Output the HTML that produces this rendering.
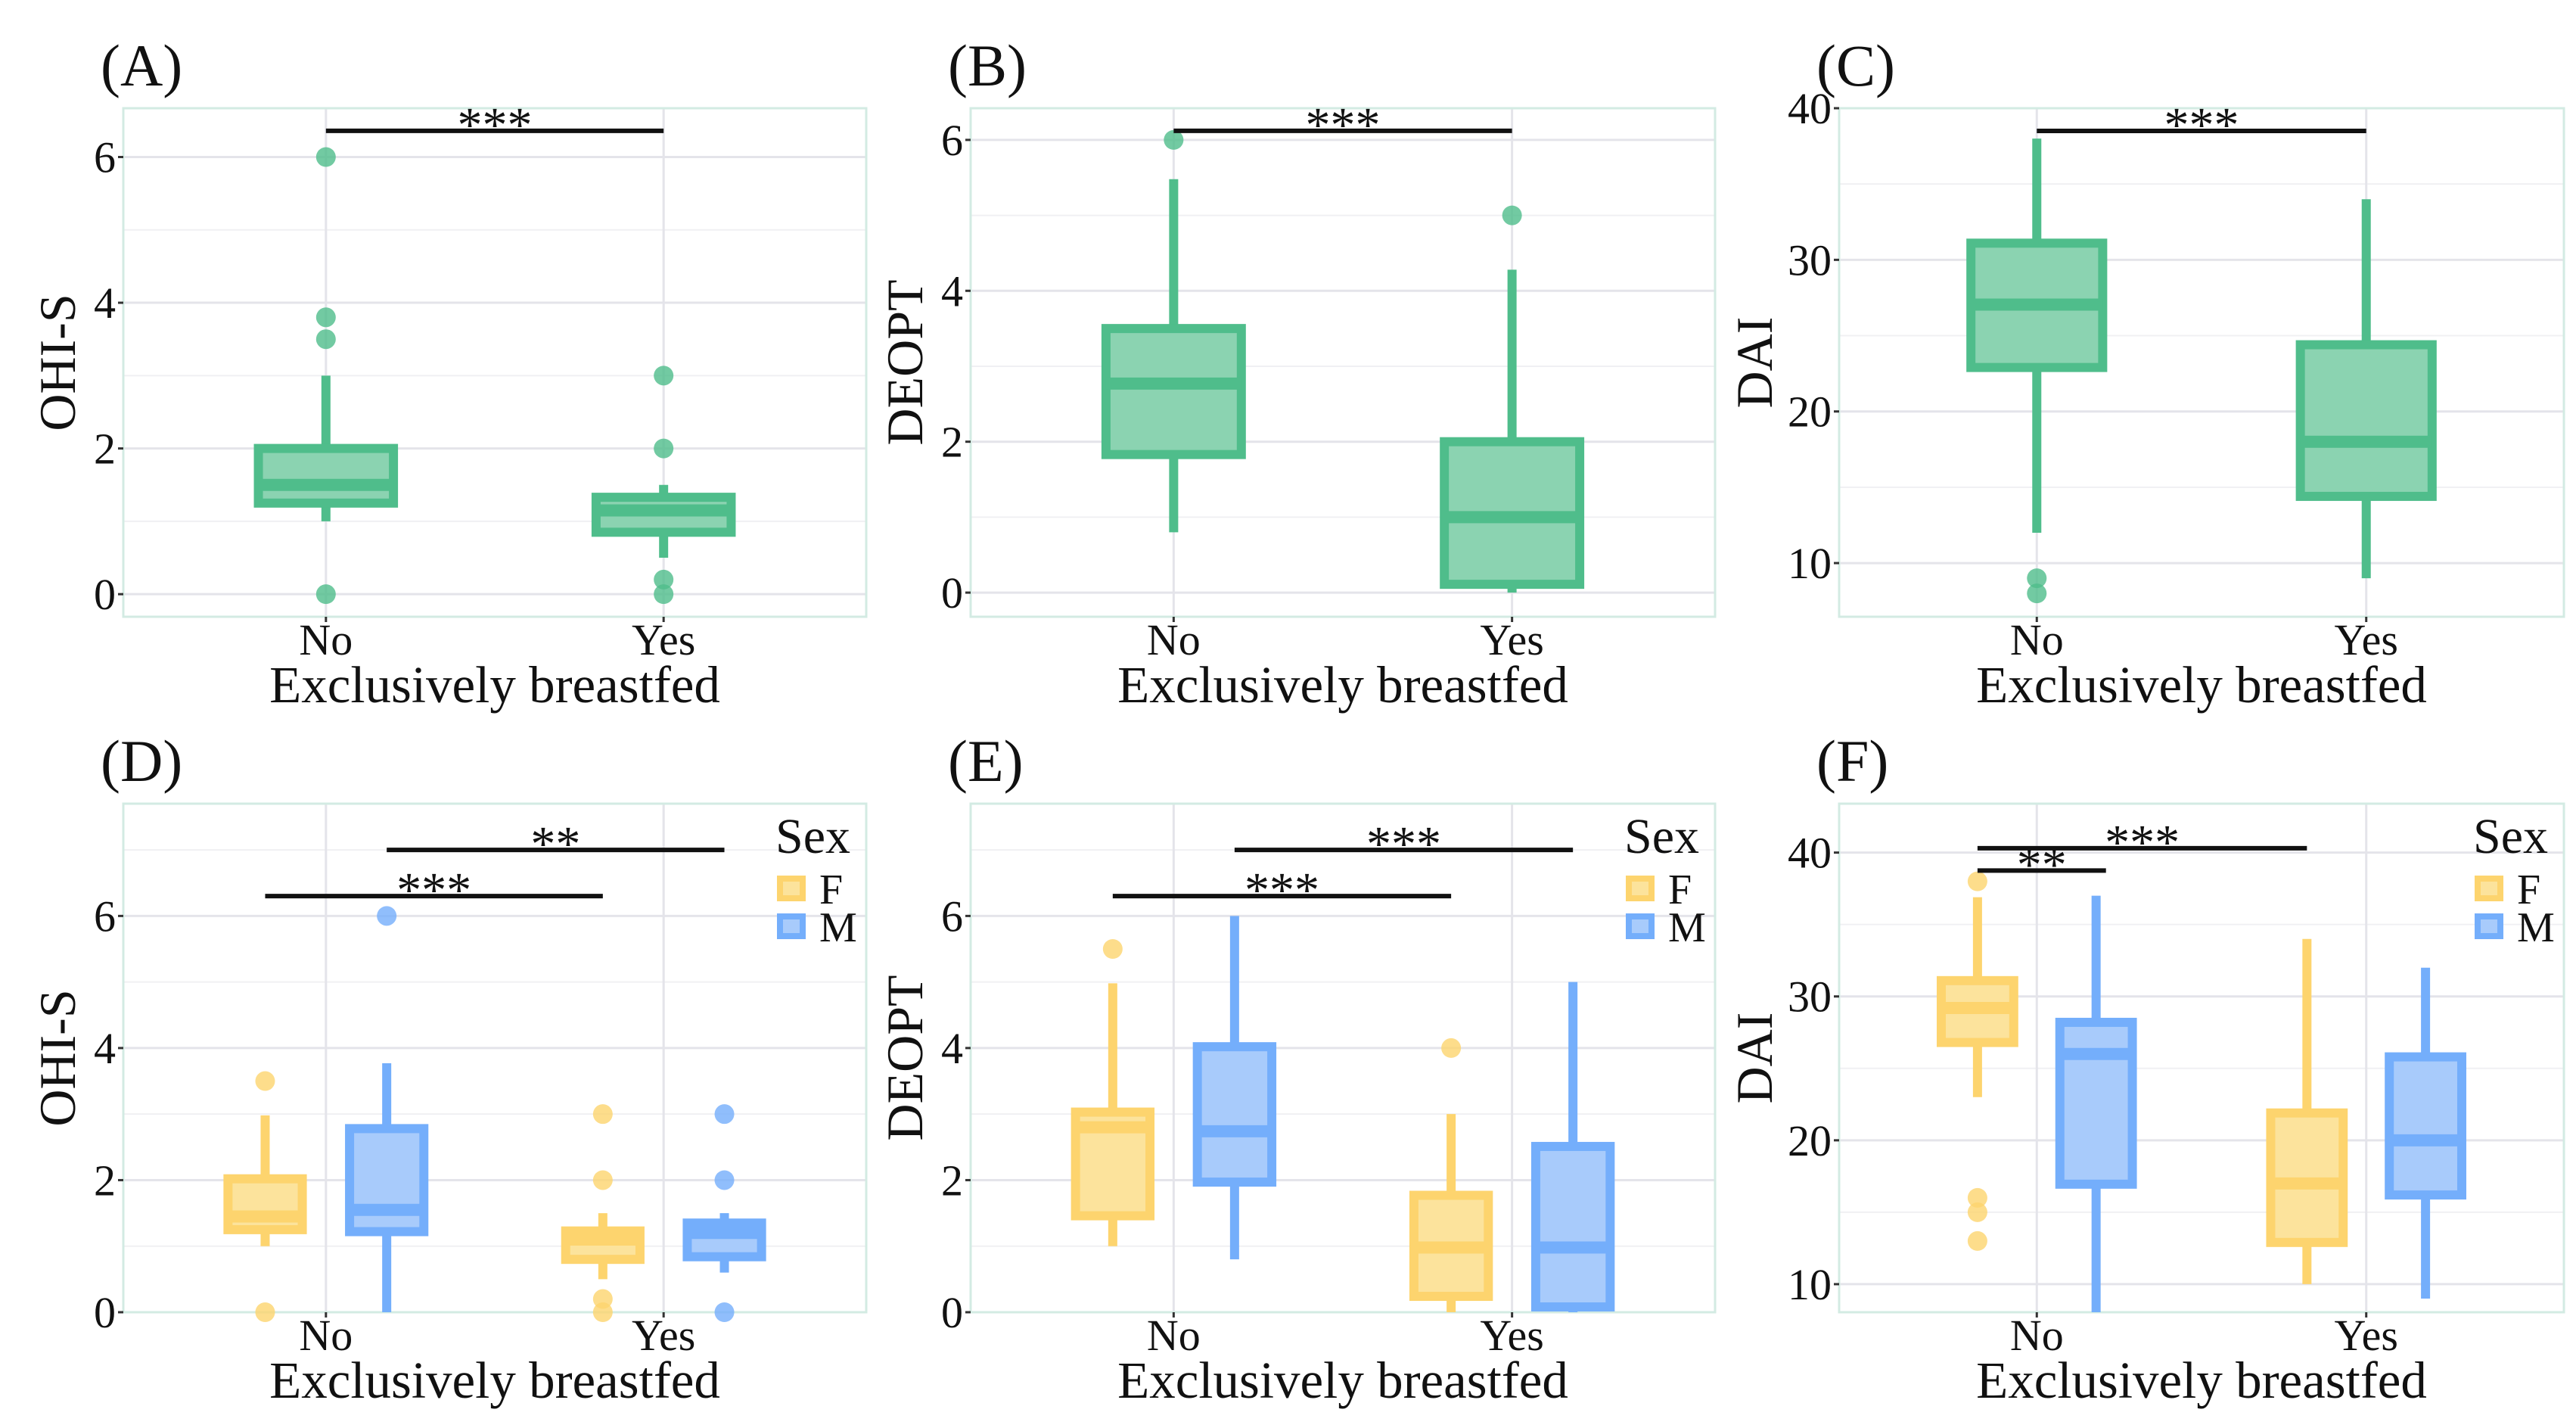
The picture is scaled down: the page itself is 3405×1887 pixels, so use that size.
<!DOCTYPE html>
<html><head><meta charset="utf-8"><style>
html,body{margin:0;padding:0;background:#fff}
svg{display:block;font-family:"Liberation Serif",serif}
</style></head><body>
<svg id="chart" width="3405" height="1887" viewBox="0 0 3405 1887" xmlns="http://www.w3.org/2000/svg"></svg>
<script>
const categories = ["No","Yes"];
const groups = ["F","M"];
// stats: [lowWhisker, q1, median, q3, highWhisker]
const A_no = [1.0,1.25,1.5,2.0,3.0];
const A_yes = [0.5,0.85,1.15,1.33,1.5];
const A_out_no = [6,3.8,3.5,0];
const A_out_yes = [3,2,0.2,0];
const B_no = [0.8,1.83,2.77,3.5,5.48];
const B_yes = [0,0.11,1.0,2.0,4.28];
const B_out_no = [6];
const B_out_yes = [5];
const C_no = [12,22.9,27.05,31.1,38];
const C_yes = [9,14.4,18,24.4,34];
const C_out_no = [9,8];
const C_out_yes = [];
const D_F = [[1.0,1.25,1.45,2.02,2.98],[0.5,0.8,1.1,1.23,1.5]];
const D_M = [[0,1.22,1.55,2.78,3.77],[0.6,0.84,1.2,1.35,1.5]];
const D_out_F = [[3.5,0],[3,2,0.2,0]];
const D_out_M = [[6],[3,2,0]];
const E_F = [[1.0,1.46,2.8,3.03,4.98],[0,0.24,0.98,1.77,3.0]];
const E_M = [[0.8,1.97,2.74,4.02,6.0],[0,0.08,0.98,2.51,5.0]];
const E_out_F = [[5.5],[4]];
const E_out_M = [[],[]];
const F_F = [[23,26.8,29.2,31.1,36.9],[10,12.9,17,21.9,34]];
const F_M = [[8.05,16.95,26,28.2,37],[9,16.2,20,25.8,32]];
const F_out_F = [[38,16,15,13],[]];
const F_out_M = [[],[]];
const ticksA = [0,2,4,6], minorA=[1,3,5];
const ticksC = [10,20,30,40], minorC=[15,25,35];
const ticksD = [0,2,4,6], minorD=[1,3,5,7];
const sigA = [[1,2,6.36,"***"]];
const sigB = [[1,2,6.12,"***"]];
const sigC = [[1,2,38.5,"***"]];
const sigD = [[0.82,1.82,6.3,"***"],[1.18,2.18,7.0,"**"]];
const sigE = [[0.82,1.82,6.3,"***"],[1.18,2.18,7.0,"***"]];
const sigF = [[0.82,1.21,38.75,"**"],[0.82,1.82,40.3,"***"]];

const NS="http://www.w3.org/2000/svg";
const svg=document.getElementById('chart');
function mk(tag,attrs,parent,text){const e=document.createElementNS(NS,tag);for(const k in attrs)e.setAttribute(k,attrs[k]);if(text!==undefined)e.textContent=text;(parent||svg).appendChild(e);return e;}
const COL={G:["#4fbd8b","#8bd3b1"],F:["#fdd46e","#fce39c"],M:["#74aefb","#a8cbfb"]};

function panel(p){
  const g=mk('g',{});
  
  
  const xs=v=>p.x0+(v-0.4)/2.2*(p.x1-p.x0);
  const ys=v=>p.y1-(v-p.dom[0])/(p.dom[1]-p.dom[0])*(p.y1-p.y0);
  mk('rect',{x:p.x0,y:p.y0,width:p.x1-p.x0,height:p.y1-p.y0,fill:'#fff',stroke:'none'},g);
  p.minor.forEach(t=>{const l=mk('line',{x1:p.x0,x2:p.x1,y1:ys(t),y2:ys(t),stroke:'#f0f0f3','stroke-width':2},g);});
  p.ticks.forEach(t=>{const l=mk('line',{x1:p.x0,x2:p.x1,y1:ys(t),y2:ys(t),stroke:'#e4e4ea','stroke-width':3},g);});
  categories.forEach((c,i)=>{const l=mk('line',{x1:xs(i+1),x2:xs(i+1),y1:p.y0,y2:p.y1,stroke:'#e4e4ea','stroke-width':3},g);});
  const bd=mk('rect',{x:p.x0,y:p.y0,width:p.x1-p.x0,height:p.y1-p.y0,fill:'none',stroke:'#d3ebe3','stroke-width':3},g);
  
  function box(st,outs,cx,w,col,name){
    const bx=mk('g',{},g);
    const [lo,q1,md,q3,hi]=st;const c=COL[col];
    mk('line',{x1:xs(cx),x2:xs(cx),y1:ys(hi),y2:ys(q3),stroke:c[0],'stroke-width':12},bx);
    mk('line',{x1:xs(cx),x2:xs(cx),y1:ys(q1),y2:ys(lo),stroke:c[0],'stroke-width':12},bx);
    mk('rect',{x:xs(cx-w/2),y:ys(q3),width:xs(cx+w/2)-xs(cx-w/2),height:ys(q1)-ys(q3),fill:c[1],stroke:c[0],'stroke-width':12},bx);
    mk('line',{x1:xs(cx-w/2),x2:xs(cx+w/2),y1:ys(md),y2:ys(md),stroke:c[0],'stroke-width':16},bx);
    outs.forEach(o=>{const d=mk('circle',{cx:xs(cx),cy:ys(o),r:13,fill:c[0],'fill-opacity':0.8},bx);});
  }
  if(p.single){
    box(p.single[0],p.single[2],1,0.4,'G','box-no');
    box(p.single[1],p.single[3],2,0.4,'G','box-yes');
  } else {
    categories.forEach((c,i)=>{
      box(p.F[i],p.oF[i],i+1-0.18,0.22,'F','box-'+c.toLowerCase()+'-female');
      box(p.M[i],p.oM[i],i+1+0.18,0.22,'M','box-'+c.toLowerCase()+'-male');
    });
  }
  p.sig.forEach(s=>{
    const sg=mk('g',{},g);
    mk('line',{x1:xs(s[0]),x2:xs(s[1]),y1:ys(s[2]),y2:ys(s[2]),stroke:'#111','stroke-width':6},sg);
    mk('text',{x:(xs(s[0])+xs(s[1]))/2,y:ys(s[2])+14,'text-anchor':'middle','font-size':66,fill:'#111'},sg,s[3]);
  });
  p.ticks.forEach(t=>{
    mk('line',{x1:p.x0-7,x2:p.x0,y1:ys(t),y2:ys(t),stroke:'#333','stroke-width':3},g);
    const tl=mk('text',{x:p.x0-10,y:ys(t)+20,'text-anchor':'end','font-size':58,fill:'#111'},g,String(t));
    
  });
  categories.forEach((c,i)=>{
    mk('line',{x1:xs(i+1),x2:xs(i+1),y1:p.y1,y2:p.y1+7,stroke:'#333','stroke-width':3},g);
    const tl=mk('text',{x:xs(i+1),y:p.y1+50,'text-anchor':'middle','font-size':58,fill:'#111'},g,c);
    
  });
  const xt=mk('text',{x:(p.x0+p.x1)/2,y:p.y1+113,'text-anchor':'middle','font-size':69,fill:'#111'},g,'Exclusively breastfed');
  
  const cy=(p.y0+p.y1)/2;
  const yt=mk('text',{x:p.yTitleX,y:cy,'text-anchor':'middle','font-size':68,fill:'#111',transform:`rotate(-90 ${p.yTitleX} ${cy})`},g,p.ytitle);
  
  const pl=mk('text',{x:p.x0-30,y:p.y0-30,'font-size':78,fill:'#111'},g,'('+p.id+')');
  
  if(!p.single){
    const lg=mk('g',{},g);
    const lx=p.x1-120;
    mk('text',{x:lx,y:p.y0+65,'font-size':66,fill:'#111'},lg,'Sex');
    groups.forEach((gr,k)=>{
      const ky=p.y0+95+k*50;const c=COL[gr];
      const e=mk('g',{},lg);
      mk('rect',{x:lx+6,y:ky+4,width:30,height:26,fill:c[1],stroke:c[0],'stroke-width':8},e);
      mk('text',{x:lx+58,y:ky+37,'font-size':56,fill:'#111'},e,gr);
    });
  }
}
panel({id:'A',x0:163,x1:1145,y0:143,y1:815,dom:[-0.31,6.67],ticks:ticksA,minor:minorA,single:[A_no,A_yes,A_out_no,A_out_yes],sig:sigA,ytitle:'OHI-S',yTitleX:99});
panel({id:'B',x0:1283,x1:2267,y0:143,y1:815,dom:[-0.32,6.42],ticks:ticksA,minor:minorA,single:[B_no,B_yes,B_out_no,B_out_yes],sig:sigB,ytitle:'DEOPT',yTitleX:1219});
panel({id:'C',x0:2431,x1:3389,y0:143,y1:815,dom:[6.46,40],ticks:ticksC,minor:minorC,single:[C_no,C_yes,C_out_no,C_out_yes],sig:sigC,ytitle:'DAI',yTitleX:2342});
panel({id:'D',x0:163,x1:1145,y0:1062,y1:1734,dom:[0,7.7],ticks:ticksD,minor:minorD,F:D_F,M:D_M,oF:D_out_F,oM:D_out_M,sig:sigD,ytitle:'OHI-S',yTitleX:99});
panel({id:'E',x0:1283,x1:2267,y0:1062,y1:1734,dom:[0,7.7],ticks:ticksD,minor:minorD,F:E_F,M:E_M,oF:E_out_F,oM:E_out_M,sig:sigE,ytitle:'DEOPT',yTitleX:1219});
panel({id:'F',x0:2431,x1:3389,y0:1062,y1:1734,dom:[8.05,43.4],ticks:ticksC,minor:minorC,F:F_F,M:F_M,oF:F_out_F,oM:F_out_M,sig:sigF,ytitle:'DAI',yTitleX:2342});
</script>
</body></html>
